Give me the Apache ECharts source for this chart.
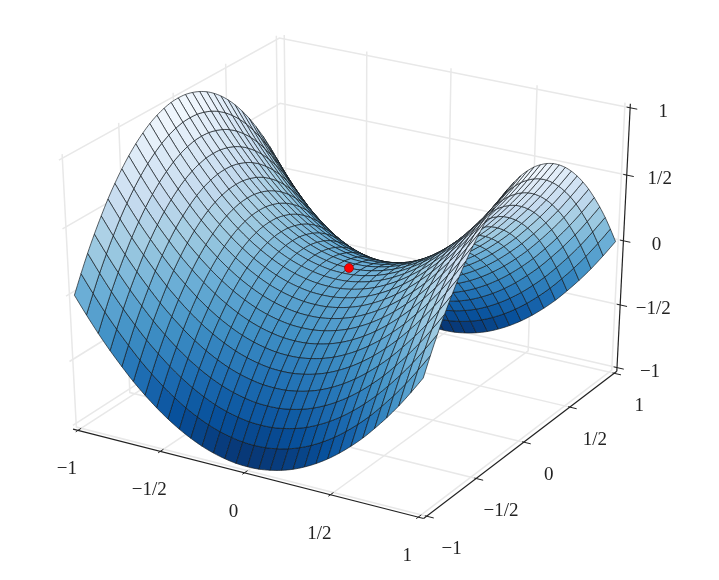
<!DOCTYPE html>
<html>
<head>
<meta charset="utf-8">
<style>
  html, body { margin: 0; padding: 0; background: #fff; }
  #chart { width: 719px; height: 580px; }
</style>
<script src="https://cdn.jsdelivr.net/npm/echarts@6/dist/echarts.min.js"></script>
</head>
<body>
<div id="chart"></div>
<script>
const tickValues = [-1, -0.5, 0, 0.5, 1];
const tickLabels = ['\u22121', '\u22121/2', '0', '1/2', '1'];
const gridX = [-1, -.933, -.867, -.8, -.733, -.667, -.6, -.533, -.467, -.4, -.333, -.267, -.2, -.133, -.067, 0, .067, .133, .2, .267, .333, .4, .467, .533, .6, .667, .733, .8, .867, .933, 1];
const gridY = [-1, -.933, -.867, -.8, -.733, -.667, -.6, -.533, -.467, -.4, -.333, -.267, -.2, -.133, -.067, 0, .067, .133, .2, .267, .333, .4, .467, .533, .6, .667, .733, .8, .867, .933, 1];
// heights read row by row, the surface is mirrored about y = 0
const row0 = [0,-.129,-.249,-.36,-.462,-.556,-.64,-.716,-.782,-.84,-.889,-.929,-.96,-.982,-.996,-1,-.996,-.982,-.96,-.929,-.889,-.84,-.782,-.716,-.64,-.556,-.462,-.36,-.249,-.129,0];
const row1 = [.129,0,-.12,-.231,-.333,-.427,-.511,-.587,-.653,-.711,-.76,-.8,-.831,-.853,-.867,-.871,-.867,-.853,-.831,-.8,-.76,-.711,-.653,-.587,-.511,-.427,-.333,-.231,-.12,0,.129];
const row2 = [.249,.12,0,-.111,-.213,-.307,-.391,-.467,-.533,-.591,-.64,-.68,-.711,-.733,-.747,-.751,-.747,-.733,-.711,-.68,-.64,-.591,-.533,-.467,-.391,-.307,-.213,-.111,0,.12,.249];
const row3 = [.36,.231,.111,0,-.102,-.196,-.28,-.356,-.422,-.48,-.529,-.569,-.6,-.622,-.636,-.64,-.636,-.622,-.6,-.569,-.529,-.48,-.422,-.356,-.28,-.196,-.102,0,.111,.231,.36];
const row4 = [.462,.333,.213,.102,0,-.094,-.178,-.254,-.32,-.378,-.427,-.467,-.498,-.52,-.534,-.538,-.534,-.52,-.498,-.467,-.427,-.378,-.32,-.254,-.178,-.094,0,.102,.213,.333,.462];
const row5 = [.556,.427,.307,.196,.094,0,-.084,-.16,-.226,-.284,-.333,-.373,-.404,-.426,-.44,-.444,-.44,-.426,-.404,-.373,-.333,-.284,-.226,-.16,-.084,0,.094,.196,.307,.427,.556];
const row6 = [.64,.511,.391,.28,.178,.084,0,-.076,-.142,-.2,-.249,-.289,-.32,-.342,-.356,-.36,-.356,-.342,-.32,-.289,-.249,-.2,-.142,-.076,0,.084,.178,.28,.391,.511,.64];
const row7 = [.716,.587,.467,.356,.254,.16,.076,0,-.066,-.124,-.173,-.213,-.244,-.266,-.28,-.284,-.28,-.266,-.244,-.213,-.173,-.124,-.066,0,.076,.16,.254,.356,.467,.587,.716];
const row8 = [.782,.653,.533,.422,.32,.226,.142,.066,0,-.058,-.107,-.147,-.178,-.2,-.214,-.218,-.214,-.2,-.178,-.147,-.107,-.058,0,.066,.142,.226,.32,.422,.533,.653,.782];
const row9 = [.84,.711,.591,.48,.378,.284,.2,.124,.058,0,-.049,-.089,-.12,-.142,-.156,-.16,-.156,-.142,-.12,-.089,-.049,0,.058,.124,.2,.284,.378,.48,.591,.711,.84];
const row10 = [.889,.76,.64,.529,.427,.333,.249,.173,.107,.049,0,-.04,-.071,-.093,-.107,-.111,-.107,-.093,-.071,-.04,0,.049,.107,.173,.249,.333,.427,.529,.64,.76,.889];
const row11 = [.929,.8,.68,.569,.467,.373,.289,.213,.147,.089,.04,0,-.031,-.053,-.067,-.071,-.067,-.053,-.031,0,.04,.089,.147,.213,.289,.373,.467,.569,.68,.8,.929];
const row12 = [.96,.831,.711,.6,.498,.404,.32,.244,.178,.12,.071,.031,0,-.022,-.036,-.04,-.036,-.022,0,.031,.071,.12,.178,.244,.32,.404,.498,.6,.711,.831,.96];
const row13 = [.982,.853,.733,.622,.52,.426,.342,.266,.2,.142,.093,.053,.022,0,-.014,-.018,-.014,0,.022,.053,.093,.142,.2,.266,.342,.426,.52,.622,.733,.853,.982];
const row14 = [.996,.867,.747,.636,.534,.44,.356,.28,.214,.156,.107,.067,.036,.014,0,-.004,0,.014,.036,.067,.107,.156,.214,.28,.356,.44,.534,.636,.747,.867,.996];
const row15 = [1,.871,.751,.64,.538,.444,.36,.284,.218,.16,.111,.071,.04,.018,.004,0,.004,.018,.04,.071,.111,.16,.218,.284,.36,.444,.538,.64,.751,.871,1];
const surfaceZ = [row0, row1, row2, row3, row4, row5, row6, row7, row8, row9, row10, row11, row12, row13, row14, row15,
  row14, row13, row12, row11, row10, row9, row8, row7, row6, row5, row4, row3, row2, row1, row0];
const saddlePoint = [0, 0, 0];
const blues = ['#f7fbff', '#deebf7', '#c6dbef', '#9ecae1', '#6baed6', '#4292c6', '#2171b5', '#08519c', '#08306b'];

// camera, same idea as a matplotlib 3d axes
const elev = 30 * Math.PI / 180;
const azim = -59.5 * Math.PI / 180;
const dist = 10;
const lim = 1.03; // box is a bit bigger than the ticks
const scaleX = 407, scaleY = 312, centerX = 349, centerY = 268;
const width = 719, height = 580;

const n = [Math.cos(elev) * Math.cos(azim), Math.cos(elev) * Math.sin(azim), Math.sin(elev)];
const u = [-Math.sin(azim), Math.cos(azim), 0];
const v = [n[1] * u[2] - n[2] * u[1], n[2] * u[0] - n[0] * u[2], n[0] * u[1] - n[1] * u[0]];

function dot(a, b) { return a[0] * b[0] + a[1] * b[1] + a[2] * b[2]; }

// returns [viewX, viewY, depth], bigger depth is closer to the camera
function project(p) {
  const q = [p[0] / (2 * lim), p[1] / (2 * lim), p[2] / (2 * lim)];
  const depth = dot(n, q);
  const f = dist / (dist - depth);
  return [dot(u, q) * f, dot(v, q) * f, depth];
}

function colorFor(z) {
  const t = ((1 - z) / 2) * (blues.length - 1);
  const i = Math.min(Math.floor(t), blues.length - 2);
  const c0 = echarts.color.parse(blues[i]);
  const c1 = echarts.color.parse(blues[i + 1]);
  const k = t - i;
  return 'rgb(' + [0, 1, 2].map(m => Math.round(c0[m] + (c1[m] - c0[m]) * k)).join(',') + ')';
}

const viewGrid = gridY.map((y, j) => gridX.map((x, i) => project([x, y, surfaceZ[j][i]])));

// curved edge between grid nodes b and c, a and d are the neighbours (same as a smooth line)
function curve(a, b, c, d) {
  const out = [];
  for (let s = 0; s < 4; s++) {
    const t = s / 4, t2 = t * t, t3 = t2 * t;
    out.push([0, 1].map(m => 0.5 * (2 * b[m] + (c[m] - a[m]) * t + (2 * a[m] - 5 * b[m] + 4 * c[m] - d[m]) * t2 + (3 * b[m] - a[m] - 3 * c[m] + d[m]) * t3)));
  }
  return out;
}

function node(i, j) {
  const ii = Math.max(0, Math.min(gridX.length - 1, i));
  const jj = Math.max(0, Math.min(gridY.length - 1, j));
  return viewGrid[jj][ii];
}

// faces, sorted back to front
const faces = [];
for (let j = 0; j < gridY.length - 1; j++) {
  for (let i = 0; i < gridX.length - 1; i++) {
    const outline = [].concat(
      curve(node(i - 1, j), node(i, j), node(i + 1, j), node(i + 2, j)),
      curve(node(i + 1, j - 1), node(i + 1, j), node(i + 1, j + 1), node(i + 1, j + 2)),
      curve(node(i + 2, j + 1), node(i + 1, j + 1), node(i, j + 1), node(i - 1, j + 1)),
      curve(node(i, j + 2), node(i, j + 1), node(i, j), node(i, j - 1))
    );
    const depth = (node(i, j)[2] + node(i + 1, j)[2] + node(i + 1, j + 1)[2] + node(i, j + 1)[2]) / 4;
    const meanZ = (surfaceZ[j][i] + surfaceZ[j][i + 1] + surfaceZ[j + 1][i + 1] + surfaceZ[j + 1][i]) / 4;
    faces.push({ outline, depth, meanZ });
  }
}
faces.sort((a, b) => a.depth - b.depth);

// pane grid lines, each one is a polyline in 3d
const paneLines = [];
tickValues.forEach(t => {
  paneLines.push([[t, -lim, -lim], [t, lim, -lim], [t, lim, lim]]);
  paneLines.push([[lim, t, -lim], [-lim, t, -lim], [-lim, t, lim]]);
  paneLines.push([[-lim, -lim, t], [-lim, lim, t], [lim, lim, t]]);
});

const axisLines = [
  [[-lim, -lim, -lim], [lim, -lim, -lim]],
  [[lim, -lim, -lim], [lim, lim, -lim]],
  [[lim, lim, -lim], [lim, lim, lim]]
];
const tickMarks = [];
const labels = [];
tickValues.forEach((t, k) => {
  tickMarks.push([[t, -lim - 0.02, -lim], [t, -lim + 0.03, -lim]]);
  tickMarks.push([[lim - 0.01, t, -lim], [lim + 0.04, t, -lim]]);
  tickMarks.push([[lim - 0.02, lim, t], [lim + 0.04, lim, t]]);
  labels.push({ p: [t, -lim, -lim], text: tickLabels[k], dx: -11, dy: 39 });
  labels.push({ p: [lim, t, -lim], text: tickLabels[k], dx: 25, dy: 33 });
  labels.push({ p: [lim, lim, t], text: tickLabels[k], dx: 33, dy: 4 });
});

function toPixels(api, p3) {
  const p = project(p3);
  return api.coord([p[0], p[1]]);
}

function lineSeries(lines, color, lineWidth) {
  return {
    type: 'custom',
    coordinateSystem: 'cartesian2d',
    silent: true,
    animation: false,
    clip: false,
    data: lines.map((l, i) => [i]),
    renderItem: (params, api) => ({
      type: 'polyline',
      shape: { points: lines[api.value(0)].map(p => toPixels(api, p)) },
      style: { fill: 'none', stroke: color, lineWidth: lineWidth }
    })
  };
}

const chart = echarts.init(document.getElementById('chart'));
chart.setOption({
  animation: false,
  backgroundColor: '#fff',
  grid: { left: 0, right: 0, top: 0, bottom: 0 },
  xAxis: { type: 'value', show: false, min: -centerX / scaleX, max: (width - centerX) / scaleX },
  yAxis: { type: 'value', show: false, min: (centerY - height) / scaleY, max: centerY / scaleY },
  series: [
    lineSeries(paneLines, '#e8e8e8', 1.5),
    lineSeries(axisLines, '#222', 1.2),
    lineSeries(tickMarks, '#222', 1),
    {
      type: 'custom',
      coordinateSystem: 'cartesian2d',
      silent: true,
      animation: false,
      clip: false,
      progressive: 0,
      data: faces.map((f, i) => [i]),
      renderItem: (params, api) => {
        const f = faces[api.value(0)];
        return {
          type: 'polygon',
          shape: { points: f.outline.map(p => api.coord(p)) },
          style: { fill: colorFor(f.meanZ), stroke: 'rgba(20,25,30,0.8)', lineWidth: 0.85 }
        };
      }
    },
    {
      type: 'custom',
      coordinateSystem: 'cartesian2d',
      silent: true,
      animation: false,
      data: [saddlePoint],
      renderItem: (params, api) => {
        const c = toPixels(api, [api.value(0), api.value(1), api.value(2)]);
        return {
          type: 'circle',
          shape: { cx: c[0], cy: c[1], r: 4.5 },
          style: { fill: '#f00', stroke: '#700', lineWidth: 0.6 }
        };
      }
    },
    {
      type: 'custom',
      coordinateSystem: 'cartesian2d',
      silent: true,
      animation: false,
      clip: false,
      data: labels.map((l, i) => [i]),
      renderItem: (params, api) => {
        const l = labels[api.value(0)];
        const c = toPixels(api, l.p);
        return {
          type: 'text',
          style: {
            x: c[0] + l.dx,
            y: c[1] + l.dy,
            text: l.text,
            fill: '#222',
            font: '19px "Liberation Serif"',
            align: 'center',
            verticalAlign: 'middle'
          }
        };
      }
    }
  ]
});
</script>
</body>
</html>
